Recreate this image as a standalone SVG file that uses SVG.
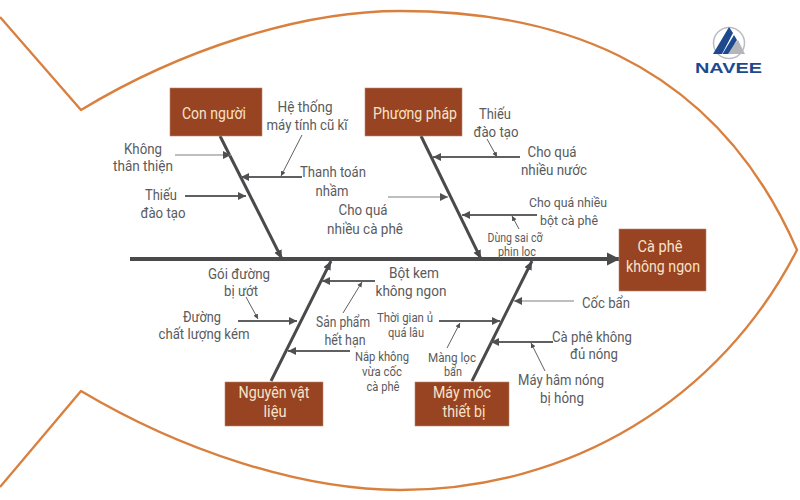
<svg xmlns="http://www.w3.org/2000/svg" width="800" height="500" viewBox="0 0 800 500">
<style>
text{font-family:Roboto,"Liberation Sans",sans-serif;text-anchor:middle}
.l{font-size:15px;fill:#5a5b5d}
.s{font-size:13px;fill:#5a5b5d}
.t{font-size:12px;fill:#5a5b5d}
.b{font-size:16px;fill:#f5e3cc}
.box{fill:#984321;stroke:#b98a74;stroke-width:.6}
.fish{fill:none;stroke:#d9803f;stroke-width:2.4;stroke-linejoin:round}
.bone{stroke:#4a4a4c;stroke-width:3;fill:none}
.sub{stroke:#5f6062;stroke-width:1.8;fill:none;marker-end:url(#m)}
.light{stroke:#a8a8a8;stroke-width:1.6;fill:none;marker-end:url(#m)}
.thin{stroke:#5f6062;stroke-width:1;fill:none;marker-end:url(#t)}
</style>
<defs>
<marker id="m" markerUnits="userSpaceOnUse" markerWidth="10" markerHeight="10" refX="8" refY="5" orient="auto"><path d="M0 1L8 5L0 9Z" fill="#4f5052"/></marker>
<marker id="t" markerUnits="userSpaceOnUse" markerWidth="7" markerHeight="7" refX="5" refY="3.5" orient="auto"><path d="M0 1L5 3.5L0 6Z" fill="#4f5052"/></marker>
<marker id="bh" markerUnits="userSpaceOnUse" markerWidth="12" markerHeight="12" refX="9" refY="6" orient="auto"><path d="M0 2L9 6L0 10Z" fill="#4a4a4c"/></marker>
<marker id="sh" markerUnits="userSpaceOnUse" markerWidth="14" markerHeight="16" refX="13" refY="8" orient="auto"><path d="M0 1.500L13 8L0 14.500Z" fill="#4a4a4c"/></marker>
</defs>
<rect width="800" height="500" fill="#fff"/>
<path class="fish" d="M0 17L81 110C180 50 300 11 400 11C540 11 710 50 797 250C720 400 570 490 400 490C300 490 180 450 81 391L0 487"/>
<g id="connectors">
<path d="M130 259H620" stroke="#4a4a4c" stroke-width="4" fill="none" marker-end="url(#sh)"/>
<path class="bone" d="M220 136L282 259" marker-end="url(#bh)"/>
<path class="bone" d="M421 136L481 259" marker-end="url(#bh)"/>
<path class="bone" d="M271 381L331 261" marker-end="url(#bh)"/>
<path class="bone" d="M472 381L532 261" marker-end="url(#bh)"/>
<path class="light" d="M175 155H231"/>
<path class="sub" d="M302 177H241"/>
<path class="sub" d="M185 196H246"/>
<path class="thin" d="M302 135L281 176"/>
<path class="light" d="M388 197H448"/>
<path class="sub" d="M520 157H433"/>
<path class="thin" d="M487 139L497 157"/>
<path class="sub" d="M537 215H462"/>
<path class="thin" d="M519 229L512 216"/>
<path class="sub" d="M238 321H297"/>
<path class="thin" d="M246 297L258 319"/>
<path class="sub" d="M375 281H322"/>
<path class="thin" d="M343 313L362 282"/>
<path class="sub" d="M350 351H288"/>
<path class="sub" d="M439 321H500"/>
<path class="thin" d="M447 348L460 323"/>
<path class="light" d="M574 301H514"/>
<path class="sub" d="M553 342H491"/>
<path class="thin" d="M545 371L531 343"/>
</g>
<g id="node-con-nguoi"><rect class="box" x="170" y="88" width="92" height="48"/><text class="b" x="214" y="119" textLength="64" lengthAdjust="spacingAndGlyphs">Con người</text></g>
<g id="node-phuong-phap"><rect class="box" x="365" y="88" width="97" height="48"/><text class="b" x="415" y="119" textLength="84" lengthAdjust="spacingAndGlyphs">Phương pháp</text></g>
<g id="node-ca-phe"><rect class="box" x="619" y="229" width="87" height="62"/><text class="b" x="660" y="252" textLength="45" lengthAdjust="spacingAndGlyphs">Cà phê</text><text class="b" x="663" y="272" textLength="74" lengthAdjust="spacingAndGlyphs">không ngon</text></g>
<g id="node-nguyen-vat-lieu"><rect class="box" x="225" y="382" width="98" height="44"/><text class="b" x="274" y="398" textLength="71" lengthAdjust="spacingAndGlyphs">Nguyên vật</text><text class="b" x="275" y="417" textLength="23" lengthAdjust="spacingAndGlyphs">liệu</text></g>
<g id="node-may-moc"><rect class="box" x="415" y="382" width="94" height="44"/><text class="b" x="462" y="398" textLength="58" lengthAdjust="spacingAndGlyphs">Máy móc</text><text class="b" x="464" y="417" textLength="43" lengthAdjust="spacingAndGlyphs">thiết bị</text></g>
<g id="labels">
<text class="l" x="305" y="112" textLength="55" lengthAdjust="spacingAndGlyphs">Hệ thống</text>
<text class="l" x="307" y="130" textLength="81" lengthAdjust="spacingAndGlyphs">máy tính cũ kĩ</text>
<text class="l" x="143" y="154" textLength="38" lengthAdjust="spacingAndGlyphs">Không</text>
<text class="l" x="143" y="171" textLength="60" lengthAdjust="spacingAndGlyphs">thân thiện</text>
<text class="l" x="161" y="200" textLength="32" lengthAdjust="spacingAndGlyphs">Thiếu</text>
<text class="l" x="163" y="218" textLength="45" lengthAdjust="spacingAndGlyphs">đào tạo</text>
<text class="l" x="333" y="177" textLength="66" lengthAdjust="spacingAndGlyphs">Thanh toán</text>
<text class="l" x="332" y="196" textLength="33" lengthAdjust="spacingAndGlyphs">nhầm</text>
<text class="l" x="363" y="215" textLength="49" lengthAdjust="spacingAndGlyphs">Cho quá</text>
<text class="l" x="365" y="234" textLength="76" lengthAdjust="spacingAndGlyphs">nhiều cà phê</text>
<text class="l" x="495" y="119" textLength="32" lengthAdjust="spacingAndGlyphs">Thiếu</text>
<text class="l" x="496" y="137" textLength="45" lengthAdjust="spacingAndGlyphs">đào tạo</text>
<text class="l" x="552" y="157" textLength="49" lengthAdjust="spacingAndGlyphs">Cho quá</text>
<text class="l" x="554" y="175" textLength="66" lengthAdjust="spacingAndGlyphs">nhiều nước</text>
<text class="s" x="568" y="207" textLength="78" lengthAdjust="spacingAndGlyphs">Cho quá nhiều</text>
<text class="s" x="569" y="225" textLength="58" lengthAdjust="spacingAndGlyphs">bột cà phê</text>
<text class="t" x="515" y="242" textLength="55" lengthAdjust="spacingAndGlyphs">Dùng sai cỡ</text>
<text class="t" x="517" y="256" textLength="38" lengthAdjust="spacingAndGlyphs">phin lọc</text>
<text class="l" x="239" y="279" textLength="62" lengthAdjust="spacingAndGlyphs">Gói đường</text>
<text class="l" x="241" y="296" textLength="34" lengthAdjust="spacingAndGlyphs">bị ướt</text>
<text class="l" x="202" y="322" textLength="38" lengthAdjust="spacingAndGlyphs">Đường</text>
<text class="l" x="204" y="339" textLength="91" lengthAdjust="spacingAndGlyphs">chất lượng kém</text>
<text class="l" x="414" y="278" textLength="50" lengthAdjust="spacingAndGlyphs">Bột kem</text>
<text class="l" x="411" y="296" textLength="71" lengthAdjust="spacingAndGlyphs">không ngon</text>
<text class="l" x="343" y="327" textLength="54" lengthAdjust="spacingAndGlyphs">Sản phẩm</text>
<text class="l" x="345" y="345" textLength="41" lengthAdjust="spacingAndGlyphs">hết hạn</text>
<text class="s" x="405" y="322" textLength="56" lengthAdjust="spacingAndGlyphs">Thời gian ủ</text>
<text class="s" x="406" y="337" textLength="36" lengthAdjust="spacingAndGlyphs">quá lâu</text>
<text class="s" x="382" y="361" textLength="54" lengthAdjust="spacingAndGlyphs">Nắp không</text>
<text class="s" x="382" y="376" textLength="40" lengthAdjust="spacingAndGlyphs">vừa cốc</text>
<text class="s" x="383" y="391" textLength="33" lengthAdjust="spacingAndGlyphs">cà phê</text>
<text class="s" x="452" y="362" textLength="48" lengthAdjust="spacingAndGlyphs">Màng lọc</text>
<text class="s" x="453" y="376" textLength="18" lengthAdjust="spacingAndGlyphs">bẩn</text>
<text class="l" x="606" y="308" textLength="48" lengthAdjust="spacingAndGlyphs">Cốc bẩn</text>
<text class="l" x="592" y="342" textLength="80" lengthAdjust="spacingAndGlyphs">Cà phê không</text>
<text class="l" x="594" y="359" textLength="48" lengthAdjust="spacingAndGlyphs">đủ nóng</text>
<text class="l" x="561" y="385" textLength="86" lengthAdjust="spacingAndGlyphs">Máy hâm nóng</text>
<text class="l" x="562" y="403" textLength="44" lengthAdjust="spacingAndGlyphs">bị hỏng</text>
</g>
<g id="logo">
<circle cx="729" cy="43" r="15.500" fill="none" stroke="#b9bcc0" stroke-width="1.500"/>
<path d="M738 40L745 54H725Z" fill="#b4b6ba"/>
<path d="M729 27L733 33L722 54H713Z" fill="#1d4a8f"/>
<path d="M734 35L737 40L728 54H722.500Z" fill="#1d4a8f"/>
<text x="728.500" y="73" textLength="67" lengthAdjust="spacingAndGlyphs" style="font-family:'Liberation Sans',sans-serif;font-weight:700;font-size:14px;fill:#1d4a8f">NAVEE</text>
</g>
</svg>
